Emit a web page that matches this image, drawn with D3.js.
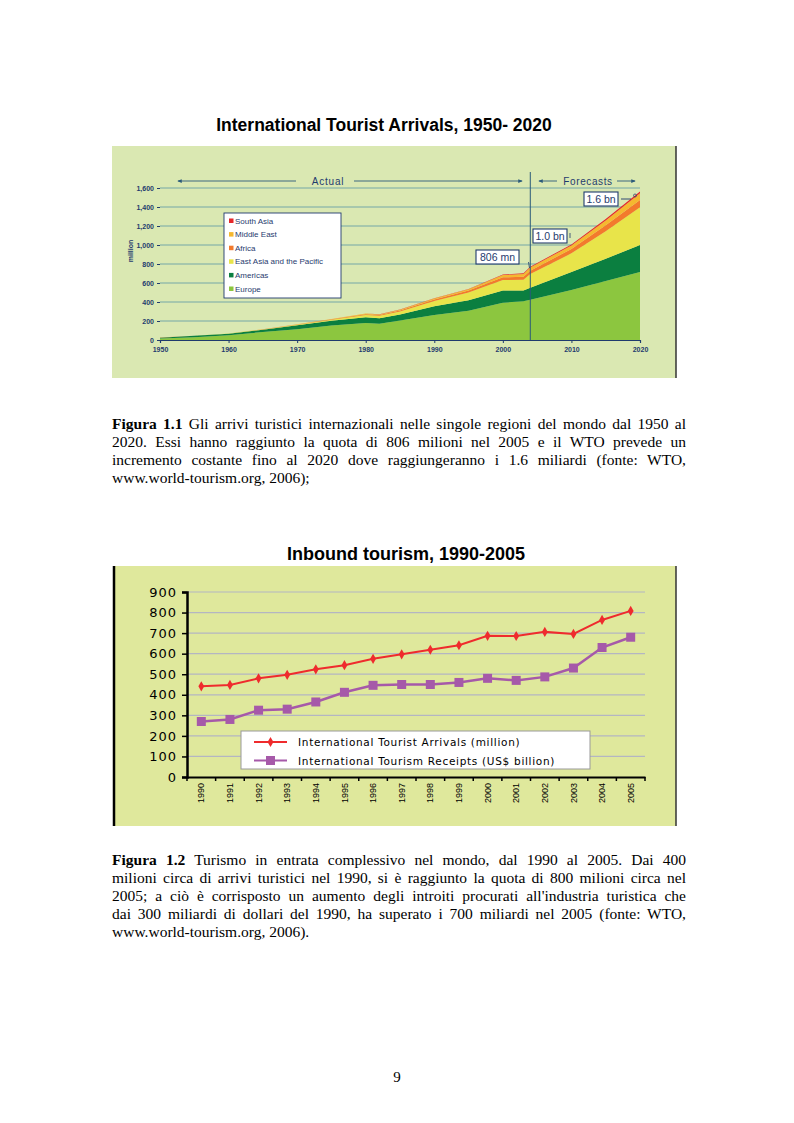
<!DOCTYPE html>
<html lang="it">
<head>
<meta charset="UTF-8">
<title>Turismo internazionale</title>
<script src="https://d3js.org/d3.v7.min.js"></script>
<style>
  body { margin: 0; background: #fff; }
  #page { position: relative; width: 794px; height: 1123px; }
  svg { position: absolute; left: 0; top: 0; }
  .cap { position: absolute; left: 112px; width: 574px; font-family: "Liberation Serif", serif;
         font-size: 15.5px; line-height: 18px; color: #000; }
  .cap div { text-align: justify; text-align-last: justify; white-space: nowrap; }
  .cap div.last { text-align-last: left; }
</style>
</head>
<body>
<div id="page">
  <svg id="chart" width="794" height="1123"></svg>
  <div class="cap" style="top:415px">
    <div><b>Figura 1.1</b> Gli arrivi turistici internazionali nelle singole regioni del mondo dal 1950 al</div>
    <div>2020. Essi hanno raggiunto la quota di 806 milioni nel 2005 e il WTO prevede un</div>
    <div>incremento costante fino al 2020 dove raggiungeranno i 1.6 miliardi (fonte: WTO,</div>
    <div class="last">www.world-tourism.org, 2006);</div>
  </div>
  <div class="cap" style="top:851px">
    <div><b>Figura 1.2</b> Turismo in entrata complessivo nel mondo, dal 1990 al 2005. Dai 400</div>
    <div>milioni circa di arrivi turistici nel 1990, si è raggiunto la quota di 800 milioni circa nel</div>
    <div>2005; a ciò è corrisposto un aumento degli introiti procurati all'industria turistica che</div>
    <div>dai 300 miliardi di dollari del 1990, ha superato i 700 miliardi nel 2005 (fonte: WTO,</div>
    <div class="last">www.world-tourism.org, 2006).</div>
  </div>
</div>
<script>
// ---- chart 1 data: arrivals by region (million) ----
const years = [1950, 1955, 1960, 1965, 1970, 1975, 1980, 1982, 1985, 1990, 1995, 2000, 2003, 2004, 2010, 2015, 2020];
const europe   = [17, 30, 50, 84, 113, 153, 178, 172, 204, 262, 309, 393, 407, 425, 527, 620, 717];
const americas = [7.5, 14, 17, 25, 42, 50, 62, 58, 65, 93, 109, 128, 113, 125, 190, 235, 284];
const eastAsia = [0.2, 0.5, 1, 2, 6, 10, 23, 26, 31, 56, 82, 111, 114, 145, 195, 290, 397];
const africa   = [0.5, 0.6, 0.8, 1.4, 2.4, 4.7, 7.2, 7.5, 9.7, 15, 20, 28, 31, 33, 47, 62, 77];
const midEast  = [0.2, 0.4, 0.6, 1.3, 1.9, 3.5, 7.5, 6, 8, 9.6, 13.7, 24, 30, 36, 36, 52, 69];
const southAsia= [0.1, 0.1, 0.2, 0.4, 0.9, 1, 2.3, 2.3, 2.5, 3.2, 4.2, 6.1, 6.6, 7.6, 11, 15, 19];
const regionNames = ["Europe", "Americas", "East Asia and the Pacific", "Africa", "Middle East", "South Asia"];
const regionColors = ["#8cc63f", "#0b7f40", "#e8e44a", "#f37a2c", "#f5b82f", "#e6282b"];
const yTicks1 = [0, 200, 400, 600, 800, 1000, 1200, 1400, 1600];
const xTicks1 = [1950, 1960, 1970, 1980, 1990, 2000, 2010, 2020];

// ---- chart 2 data ----
const years2 = ["1990","1991","1992","1993","1994","1995","1996","1997","1998","1999","2000","2001","2002","2003","2004","2005"];
const arrivals = [441, 448, 480, 497, 524, 544, 575, 597, 619, 641, 687, 686, 706, 696, 764, 808];
const receipts = [270, 280, 325, 330, 365, 412, 446, 450, 450, 460, 480, 470, 487, 530, 630, 680];
const yTicks2 = [0, 100, 200, 300, 400, 500, 600, 700, 800, 900];

const svg = d3.select("#chart");
const navy = "#1f3b6e";
const sans = "Liberation Sans, Arial, sans-serif";

// ================= chart 1 =================
svg.append("text").attr("x", 384).attr("y", 131).attr("text-anchor", "middle")
  .attr("font-family", sans).attr("font-weight", "bold")
  .attr("font-size", 17.5).text("International Tourist Arrivals, 1950- 2020");

svg.append("rect").attr("x", 112).attr("y", 146).attr("width", 564).attr("height", 232).attr("fill", "#dae8b2");
svg.append("line").attr("x1", 676).attr("x2", 676).attr("y1", 146).attr("y2", 378)
  .attr("stroke", "#333").attr("stroke-width", 1.5);

const x1 = d3.scaleLinear().domain([1950, 2020]).range([160, 640]);
const y1 = d3.scaleLinear().domain([0, 1600]).range([340, 188]);

// grid
svg.append("g").selectAll("line").data(yTicks1.slice(1)).join("line")
  .attr("x1", 160).attr("x2", 640).attr("y1", d => y1(d)).attr("y2", d => y1(d))
  .attr("stroke", "#6aa0a6").attr("stroke-width", 0.9);

// stacked areas
const rows = years.map((yr, i) => ({year: yr, Europe: europe[i], Americas: americas[i],
  "East Asia and the Pacific": eastAsia[i], Africa: africa[i], "Middle East": midEast[i], "South Asia": southAsia[i]}));
const stack = d3.stack().keys(regionNames)(rows);
const area1 = d3.area().x(d => x1(d.data.year)).y0(d => y1(d[0])).y1(d => y1(d[1]));
svg.append("g").selectAll("path").data(stack).join("path")
  .attr("d", area1).attr("fill", (d, i) => regionColors[i]);

// axes
const ax1 = svg.append("g").attr("transform", "translate(0,340)")
  .call(d3.axisBottom(x1).tickValues(xTicks1).tickFormat(d3.format("d")).tickSize(3));
const ay1 = svg.append("g").attr("transform", "translate(160,0)")
  .call(d3.axisLeft(y1).tickValues(yTicks1).tickFormat(d3.format(",")).tickSize(3));
[ax1, ay1].forEach(a => {
  a.select(".domain").attr("stroke", navy).attr("stroke-width", 1.2);
  a.selectAll(".tick line").attr("stroke", navy);
  a.selectAll("text").attr("fill", navy).attr("font-size", 7).attr("font-weight", "bold")
    .attr("font-family", sans);
});
ay1.select(".domain").remove();
ax1.selectAll("text").attr("dy", "0.9em");

svg.append("text").attr("transform", "translate(133,251) rotate(-90)").attr("text-anchor", "middle")
  .attr("font-family", sans).attr("font-size", 7).attr("font-weight", "bold")
  .attr("fill", navy).text("million");

// actual / forecast divider
svg.append("line").attr("x1", x1(2004)).attr("x2", x1(2004)).attr("y1", 172).attr("y2", 340)
  .attr("stroke", "#2a5a7a").attr("stroke-width", 1);

const defs = svg.append("defs");
defs.append("marker").attr("id", "ah").attr("viewBox", "0 0 6 6").attr("refX", 5).attr("refY", 3)
  .attr("markerWidth", 5).attr("markerHeight", 5).attr("orient", "auto-start-reverse")
  .append("path").attr("d", "M0,0.5 L6,3 L0,5.5 Z").attr("fill", "#2a5a7a");

function arrowLine(xa, xb, y, start) {
  const l = svg.append("line").attr("x1", xa).attr("x2", xb).attr("y1", y).attr("y2", y)
    .attr("stroke", "#2a5a7a").attr("stroke-width", 0.9);
  if (start) l.attr("marker-start", "url(#ah)"); else l.attr("marker-end", "url(#ah)");
}
arrowLine(178, 296, 181, true);
arrowLine(354, 522, 181, false);
arrowLine(539, 557, 181, true);
arrowLine(617, 635, 181, false);
svg.append("text").attr("x", 328).attr("y", 185).attr("text-anchor", "middle").attr("fill", navy)
  .attr("font-family", sans).attr("font-size", 10).attr("letter-spacing", 0.8).text("Actual");
svg.append("text").attr("x", 588).attr("y", 185).attr("text-anchor", "middle").attr("fill", navy)
  .attr("font-family", sans).attr("font-size", 10).attr("letter-spacing", 0.6).text("Forecasts");

// legend 1
const lg1 = svg.append("g");
lg1.append("rect").attr("x", 224).attr("y", 213).attr("width", 117).attr("height", 85)
  .attr("fill", "#fff").attr("stroke", navy).attr("stroke-width", 0.9);
const legOrder = [5, 4, 3, 2, 1, 0];
lg1.selectAll("g").data(legOrder).join("g")
  .attr("transform", (d, i) => `translate(229,${221 + i * 13.6})`)
  .each(function(d) {
    const g = d3.select(this);
    g.append("rect").attr("x", 0).attr("y", -2.5).attr("width", 4.5).attr("height", 4.5).attr("fill", regionColors[d]);
    g.append("text").attr("x", 6).attr("y", 2.5).attr("font-size", 8).attr("fill", navy)
      .attr("font-family", sans).text(regionNames[d]);
  });

// annotations
function tag(x, y, w, label) {
  svg.append("rect").attr("x", x).attr("y", y).attr("width", w).attr("height", 14)
    .attr("fill", "#fff").attr("stroke", navy).attr("stroke-width", 1.1);
  svg.append("text").attr("x", x + w / 2).attr("y", y + 11).attr("text-anchor", "middle").attr("fill", navy)
    .attr("font-family", sans).attr("font-size", 10.5).text(label);
}
tag(584, 192, 34, "1.6 bn");
tag(533, 229, 34, "1.0 bn");
tag(476, 250, 43, "806 mn");
svg.append("line").attr("x1", 621).attr("x2", 631).attr("y1", 199).attr("y2", 199).attr("stroke", navy).attr("stroke-width", 0.9);
svg.append("circle").attr("cx", 635).attr("cy", 195.5).attr("r", 1.5).attr("fill", "none").attr("stroke", navy).attr("stroke-width", 0.7);
svg.append("line").attr("x1", 570).attr("x2", 570).attr("y1", 233).attr("y2", 238).attr("stroke", navy).attr("stroke-width", 0.8);
svg.append("line").attr("x1", 528.5).attr("x2", 529.5).attr("y1", 262).attr("y2", 268).attr("stroke", navy).attr("stroke-width", 0.8);

// ================= chart 2 =================
svg.append("text").attr("x", 406).attr("y", 560).attr("text-anchor", "middle")
  .attr("font-family", sans).attr("font-weight", "bold")
  .attr("font-size", 18).text("Inbound tourism, 1990-2005");

svg.append("rect").attr("x", 113).attr("y", 566).attr("width", 563).attr("height", 260).attr("fill", "#dfe89c");
svg.append("line").attr("x1", 114).attr("x2", 114).attr("y1", 566).attr("y2", 826).attr("stroke", "#000").attr("stroke-width", 2.5);
svg.append("line").attr("x1", 676).attr("x2", 676).attr("y1", 566).attr("y2", 826).attr("stroke", "#333").attr("stroke-width", 1.5);

const x2 = d3.scaleBand().domain(years2).range([187, 645]);
const y2 = d3.scaleLinear().domain([0, 900]).range([777, 592]);
const cx = d => x2(d) + x2.bandwidth() / 2;

svg.append("g").selectAll("line").data(yTicks2.slice(1)).join("line")
  .attr("x1", 187).attr("x2", 645).attr("y1", d => y2(d)).attr("y2", d => y2(d))
  .attr("stroke", "#b4b6c2").attr("stroke-width", 1.2);

const ax2 = svg.append("g").attr("transform", "translate(0,777)")
  .call(d3.axisBottom(x2).tickSize(0).tickPadding(0));
ax2.select(".domain").attr("stroke", "#000").attr("stroke-width", 2);
ax2.selectAll(".tick text").attr("transform", "rotate(-90)").attr("text-anchor", "end")
  .attr("x", -6).attr("y", 0).attr("dy", "0.35em").attr("font-size", 9)
  .attr("font-family", sans).attr("fill", "#000");
svg.append("g").selectAll("line").data(years2.concat(["end"])).join("line")
  .attr("x1", (d, i) => 187 + i * x2.step()).attr("x2", (d, i) => 187 + i * x2.step())
  .attr("y1", 777).attr("y2", 781).attr("stroke", "#000").attr("stroke-width", 1.5);

const ay2 = svg.append("g").attr("transform", "translate(187,0)")
  .call(d3.axisLeft(y2).tickValues(yTicks2).tickSize(5).tickPadding(5));
ay2.select(".domain").attr("stroke", "#000").attr("stroke-width", 2.5);
ay2.selectAll(".tick line").attr("stroke", "#000").attr("stroke-width", 1.5);
ay2.selectAll(".tick text").attr("font-size", 13).attr("letter-spacing", 1)
  .attr("font-family", "DejaVu Sans, sans-serif").attr("fill", "#000");

const line2 = vals => d3.line().x((d, i) => cx(years2[i])).y(d => y2(d))(vals);
svg.append("path").attr("d", line2(receipts)).attr("fill", "none").attr("stroke", "#a659a9").attr("stroke-width", 2.5);
svg.append("g").selectAll("rect").data(receipts).join("rect")
  .attr("x", (d, i) => cx(years2[i]) - 4.5).attr("y", d => y2(d) - 4.5)
  .attr("width", 9).attr("height", 9).attr("fill", "#a659a9");
svg.append("path").attr("d", line2(arrivals)).attr("fill", "none").attr("stroke", "#ef2b2d").attr("stroke-width", 2);
svg.append("g").selectAll("path").data(arrivals).join("path")
  .attr("d", d3.symbol(d3.symbolDiamond, 30)).attr("transform", (d, i) => `translate(${cx(years2[i])},${y2(d)})`)
  .attr("fill", "#ef2b2d");

// legend 2
svg.append("rect").attr("x", 241).attr("y", 731).attr("width", 349).attr("height", 38)
  .attr("fill", "#fff").attr("stroke", "#999").attr("stroke-width", 1);
const leg2 = [["International Tourist Arrivals (million)", "#ef2b2d", "diamond"],
              ["International Tourism Receipts (US$ billion)", "#a659a9", "square"]];
leg2.forEach((e, i) => {
  const y = 742 + i * 18.5;
  svg.append("line").attr("x1", 254).attr("x2", 287).attr("y1", y).attr("y2", y).attr("stroke", e[1]).attr("stroke-width", 2.2);
  if (e[2] === "diamond") {
    svg.append("path").attr("d", d3.symbol(d3.symbolDiamond, 30)).attr("transform", `translate(270.5,${y})`).attr("fill", e[1]);
  } else {
    svg.append("rect").attr("x", 266).attr("y", y - 4.5).attr("width", 9).attr("height", 9).attr("fill", e[1]);
  }
  svg.append("text").attr("x", 298).attr("y", y + 4).attr("font-size", 10.5).attr("letter-spacing", 0.7)
    .attr("font-family", "DejaVu Sans, sans-serif").attr("fill", "#000").text(e[0]);
});

// page number
svg.append("text").attr("x", 397).attr("y", 1082).attr("text-anchor", "middle")
  .attr("font-family", "Liberation Serif, serif").attr("font-size", 15).text("9");
</script>
</body>
</html>
